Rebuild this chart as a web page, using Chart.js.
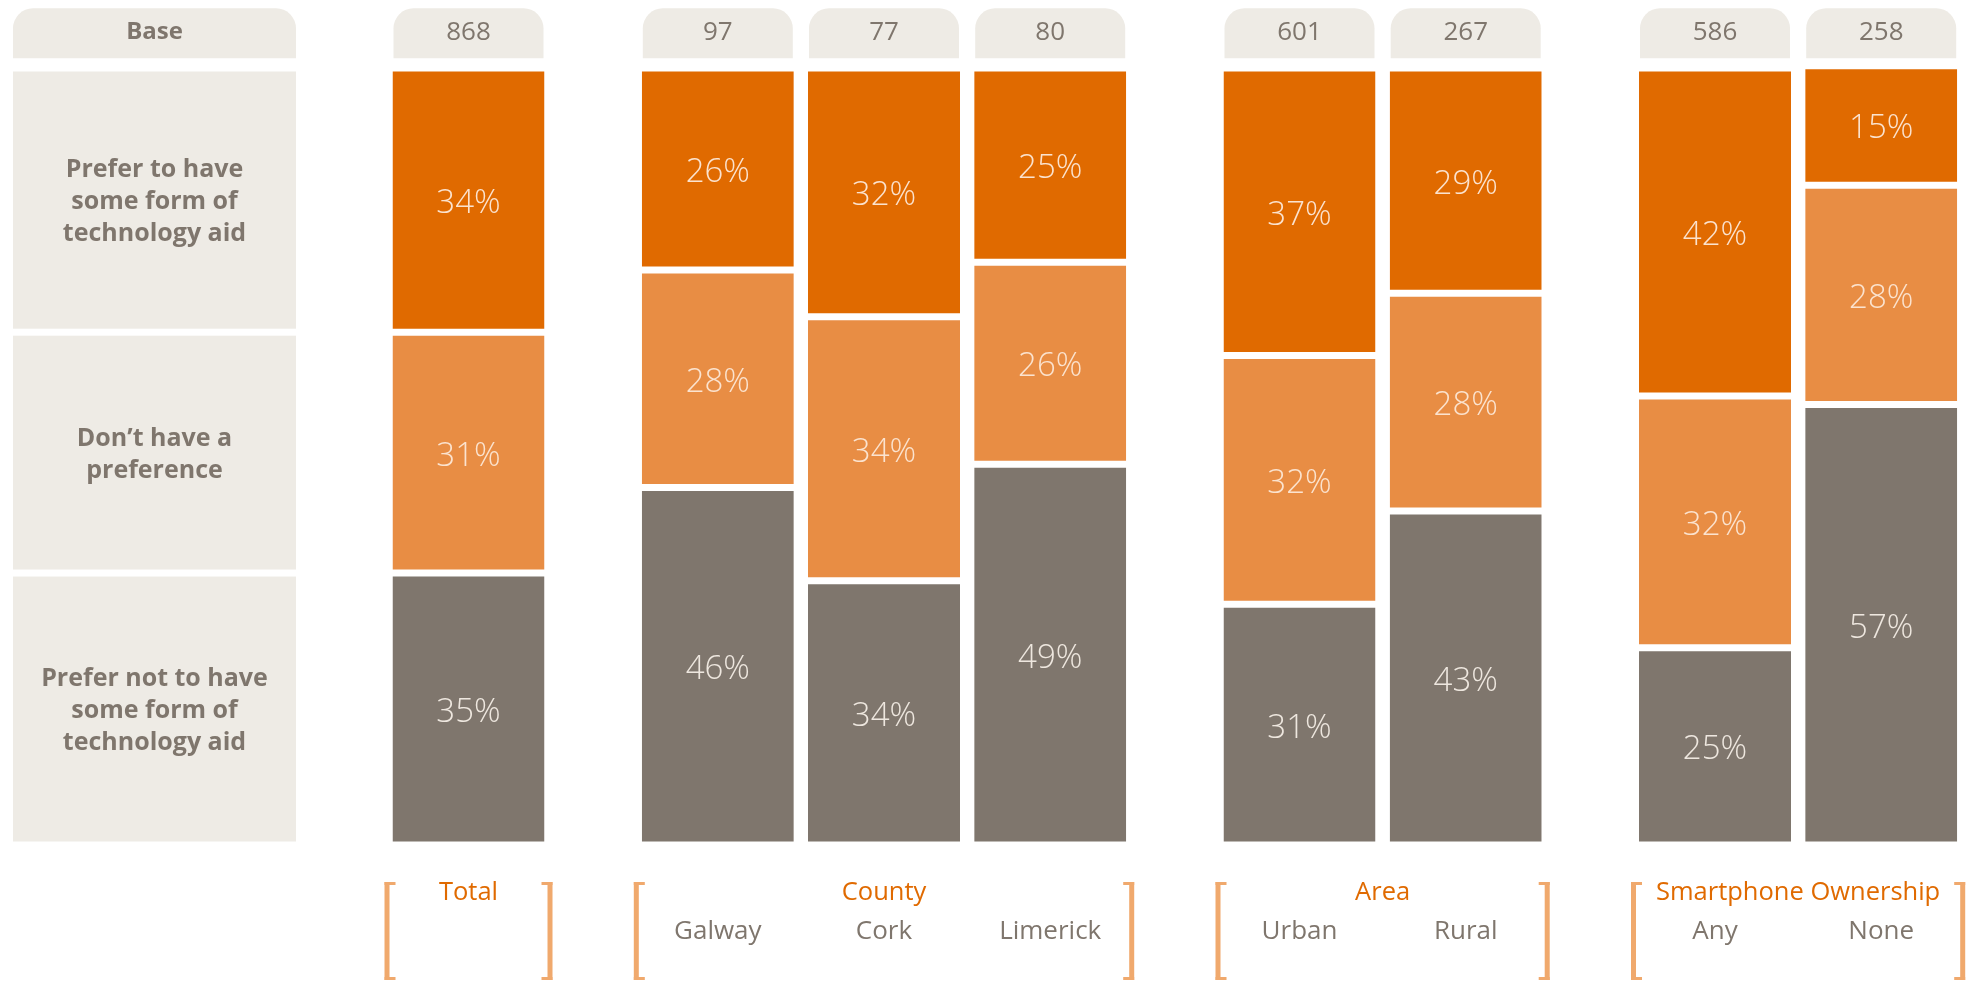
<!DOCTYPE html>
<html lang="en">
<head>
  <meta charset="UTF-8" />
  <title>Technology aid preference</title>
  <script src="https://cdn.jsdelivr.net/npm/chart.js@4.4.1/dist/chart.umd.min.js"></script>
  <style>
    html, body {
      margin: 0;
      padding: 0;
      background: #ffffff;
    }
    #wrap {
      width: 1966px;
      height: 982px;
    }
  </style>
</head>
<body>
  <div id="wrap">
    <canvas id="chart" width="1966" height="982"></canvas>
  </div>

  <script>
    // categories and groups (bottom axis)
    const categories = ["Total", "Galway", "Cork", "Limerick", "Urban", "Rural", "Any", "None"];
    const groupTitles = ["Total", "County", "Area", "Smartphone Ownership"];
    const groupSizes = [1, 3, 2, 2];
    const bases = [868, 97, 77, 80, 601, 267, 586, 258];

    // series (%)
    const preferAid = [34, 26, 32, 25, 37, 29, 42.2, 15.4];
    const noPreference = [31, 28, 34, 26, 32, 28, 32.4, 28.2];
    const preferNoAid = [35, 46, 34, 49, 31, 43, 25.4, 56.7];

    const rowLabels = [
      ["Prefer to have", "some form of", "technology aid"],
      ["Don\u2019t have a", "preference"],
      ["Prefer not to have", "some form of", "technology aid"],
    ];

    const DARK = "#e06a00";
    const LIGHT = "#e88d44";
    const GREY = "#7f766d";
    const BEIGE = "#eeebe5";
    const BRACKET = "#f0a96d";
    const FONT = '"Open Sans", "Noto Sans", sans-serif';
    const GAP = 3.5; // half of the white gap between segments

    // x position of every bar: groups are separated by an extra half slot
    const xPos = [];
    let p = 0;
    groupSizes.forEach(function (n) {
      for (let i = 0; i < n; i++) {
        xPos.push(p);
        p += 1;
      }
      p += 0.5;
    });

    function points(values) {
      return values.map(function (v, i) {
        return { x: xPos[i], y: v };
      });
    }

    function dataset(label, values, color) {
      return {
        label: label,
        data: points(values),
        backgroundColor: color,
        borderColor: "#ffffff",
        borderWidth: { top: GAP, bottom: GAP, left: 0, right: 0 },
        borderSkipped: false,
        inflateAmount: 0,
        barThickness: 152,
        clip: false,
      };
    }

    // labels inside the bars
    const valueLabels = {
      id: "valueLabels",
      afterDatasetsDraw: function (chart) {
        const ctx = chart.ctx;
        ctx.save();
        ctx.font = "300 33px " + FONT;
        ctx.textAlign = "center";
        ctx.textBaseline = "alphabetic";
        chart.data.datasets.forEach(function (ds, di) {
          const meta = chart.getDatasetMeta(di);
          meta.data.forEach(function (bar, i) {
            const cy = (bar.y + bar.base) / 2;
            ctx.fillStyle = di === 0 ? "#eee7df" : "#fbe3cf";
            ctx.fillText(Math.round(ds.data[i].y) + "%", bar.x, cy + 13);
          });
        });
        ctx.restore();
      },
    };

    // base tabs, row label boxes, group brackets and names
    const frame = {
      id: "frame",
      afterDraw: function (chart) {
        const ctx = chart.ctx;
        const bars = chart.getDatasetMeta(0).data;
        ctx.save();

        // Base tab + row label boxes
        ctx.fillStyle = BEIGE;
        ctx.beginPath();
        ctx.roundRect(13, 8.3, 283, 50, [20, 20, 0, 0]);
        ctx.fill();
        ctx.fillStyle = GREY;
        ctx.textAlign = "center";
        ctx.font = "bold 24px " + FONT;
        ctx.fillText("Base", 154.5, 39);

        [2, 1, 0].forEach(function (di, row) {
          const el = chart.getDatasetMeta(di).data[0];
          const top = el.y + GAP;
          const bottom = el.base - GAP;
          ctx.fillStyle = BEIGE;
          ctx.fillRect(13, top, 283, bottom - top);
          ctx.fillStyle = GREY;
          ctx.font = "bold 25px " + FONT;
          const lines = rowLabels[row];
          const cy = (top + bottom) / 2;
          lines.forEach(function (t, k) {
            ctx.fillText(t, 154.5, cy - ((lines.length - 1) / 2) * 32 + k * 32 + 9);
          });
        });

        // tabs with base sizes
        bars.forEach(function (bar, i) {
          const left = bar.x - bar.width / 2;
          ctx.fillStyle = BEIGE;
          ctx.beginPath();
          ctx.roundRect(left + 1, 8.3, bar.width - 2, 50, [20, 20, 0, 0]);
          ctx.fill();
          ctx.fillStyle = GREY;
          ctx.font = "26px " + FONT;
          ctx.fillText(String(bases[i]), bar.x, 39.5);
        });

        // group brackets, titles and sub labels
        let start = 0;
        groupSizes.forEach(function (n, g) {
          const first = bars[start];
          const last = bars[start + n - 1];
          const left = first.x - first.width / 2;
          const right = last.x + last.width / 2;
          ctx.fillStyle = BRACKET;
          ctx.fillRect(left - 8, 882, 5, 98);
          ctx.fillRect(left - 8, 882, 11, 3);
          ctx.fillRect(left - 8, 977, 11, 3);
          ctx.fillRect(right + 3, 882, 5, 98);
          ctx.fillRect(right - 3, 882, 11, 3);
          ctx.fillRect(right - 3, 977, 11, 3);

          ctx.fillStyle = DARK;
          ctx.font = "25.5px " + FONT;
          ctx.fillText(groupTitles[g], (left + right) / 2, 900);

          if (n > 1) {
            ctx.fillStyle = GREY;
            ctx.font = "26px " + FONT;
            for (let k = 0; k < n; k++) {
              const b = bars[start + k];
              ctx.fillText(categories[start + k], b.x, 939);
            }
          }
          start += n;
        });

        ctx.restore();
      },
    };

    new Chart(document.getElementById("chart"), {
      type: "bar",
      data: {
        labels: categories,
        datasets: [
          dataset("Prefer not to have some form of technology aid", preferNoAid, GREY),
          dataset("Don\u2019t have a preference", noPreference, LIGHT),
          dataset("Prefer to have some form of technology aid", preferAid, DARK),
        ],
      },
      options: {
        responsive: false,
        animation: false,
        events: [],
        layout: { padding: { top: 68, bottom: 137, left: 0, right: 0 } },
        plugins: {
          legend: { display: false },
          tooltip: { enabled: false },
        },
        scales: {
          x: {
            type: "linear",
            display: false,
            stacked: true,
            offset: false,
            min: -2.8189,
            max: 9.0102,
          },
          y: {
            display: false,
            stacked: true,
            min: 0,
            max: 100,
          },
        },
      },
      plugins: [valueLabels, frame],
    });
  </script>
</body>
</html>
